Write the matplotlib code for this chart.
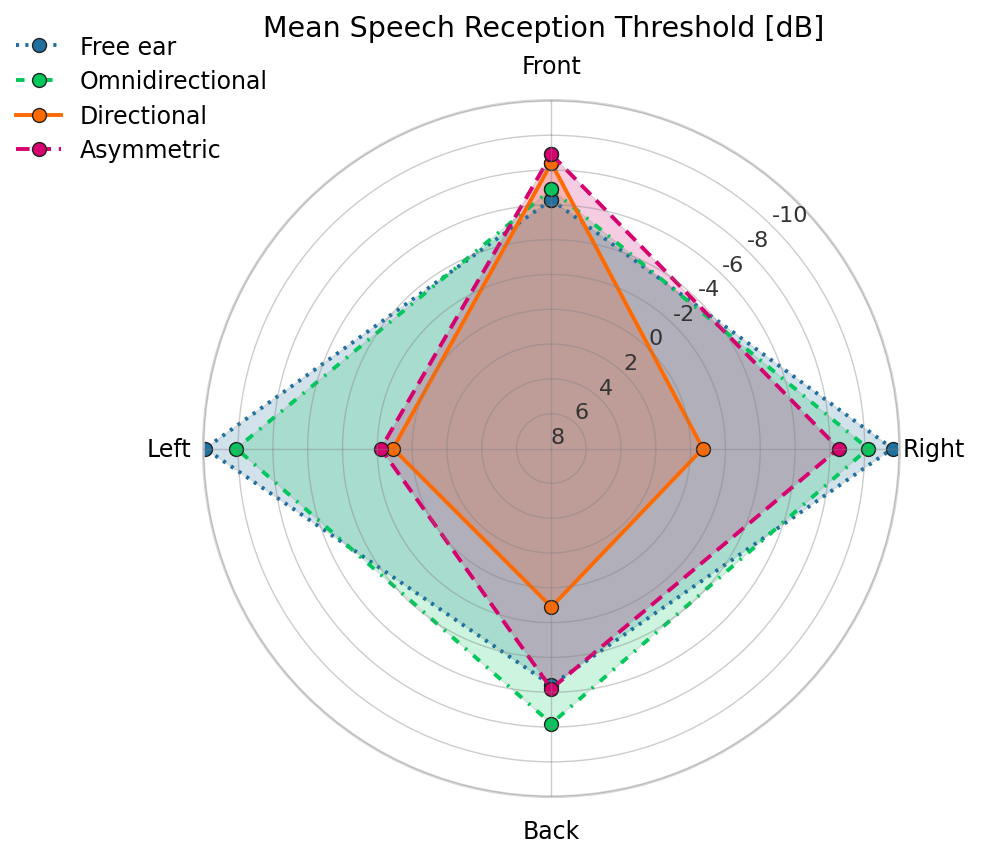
import numpy as np
import matplotlib
matplotlib.use("Agg")
import matplotlib.pyplot as plt
from matplotlib.transforms import ScaledTranslation

# directions, clockwise from the top
directions = ["Front", "Right", "Back", "Left"]

# mean SRT in dB per direction
free_ear = [-4.3, -9.6, -3.6, -9.9]
omni = [-4.9, -8.2, -5.8, -8.1]
directional = [-6.4, 1.3, 0.9, 0.9]
asymmetric = [-6.9, -6.5, -3.8, 0.2]

r_ticks = [8, 6, 4, 2, 0, -2, -4, -6, -8, -10]

series = [
    ("Free ear", free_ear, "#1f6f9f", (0, (0.8, 1.6))),
    ("Omnidirectional", omni, "#00c85a", (0, (2.2, 2.2, 0.6, 2.2))),
    ("Directional", directional, "#ff6a00", "-"),
    ("Asymmetric", asymmetric, "#d6006e", (0, (3.5, 2))),
]

angles = np.linspace(0, 2 * np.pi, len(directions), endpoint=False)
angles_closed = np.concatenate([angles, angles[:1]])

fig = plt.figure(figsize=(9.82, 8.45), dpi=100)
ax = fig.add_axes([0.207, 0.056, 0.709, 0.824], projection="polar")
ax.set_theta_zero_location("N")
ax.set_theta_direction(-1)

for name, vals, color, ls in series:
    v = np.concatenate([vals, vals[:1]])
    ax.fill(angles_closed, v, facecolor=color, edgecolor="#888888", linewidth=1, alpha=0.2)
    ax.plot(angles_closed, v, color=color, linestyle=ls, linewidth=2.8,
            marker="o", markersize=10, markeredgecolor="#222222",
            markeredgewidth=1, label=name)

ax.set_ylim(10, -10)
ax.set_yticks(r_ticks)
ax.set_yticklabels([str(t) for t in r_ticks], fontsize=16, color="#333333")
ax.set_rlabel_position(45)
shift = ScaledTranslation(-0.26, -0.23, fig.dpi_scale_trans)
for lab in ax.get_yticklabels():
    lab.set_transform(lab.get_transform() + shift)
ax.set_xticks(angles)
ax.set_xticklabels(directions, fontsize=17)
ax.tick_params(axis="x", pad=14)
ax.grid(color="#808080", alpha=0.4, linewidth=1)
ax.set_axisbelow(False)
ax.spines["polar"].set_color("#d4d4d4")
ax.spines["polar"].set_linewidth(2)

fig.suptitle("Mean Speech Reception Threshold [dB]", fontsize=20.5, x=0.554, y=0.982)
fig.legend(loc="upper left", bbox_to_anchor=(-0.005, 0.983), frameon=False,
           fontsize=17, handlelength=1.9, labelspacing=0.45)

fig.savefig("out.png", dpi=100)
